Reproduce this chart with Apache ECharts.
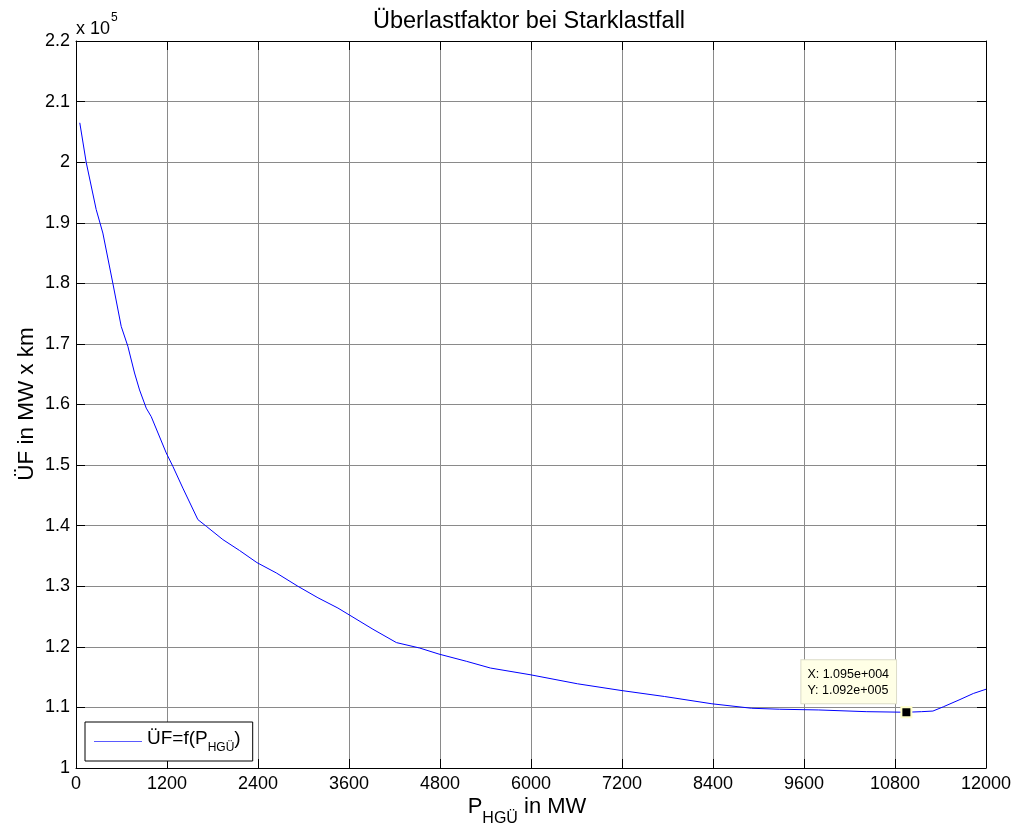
<!DOCTYPE html>
<html>
<head>
<meta charset="utf-8">
<script src="https://cdn.jsdelivr.net/npm/echarts@6/dist/echarts.min.js"></script>
<style>
  html, body { margin: 0; padding: 0; background: #ffffff; }
  #chart { width: 1017px; height: 832px; }
</style>
</head>
<body>
<div id="chart"></div>
<script>
// Transmitted HVDC power (MW)
const powerMW = [
  50, 134, 266, 354, 486, 596, 684, 772, 838, 926, 992, 1190, 1277, 1409,
  1607, 1718, 1937, 2157, 2386, 2641, 2926, 3190, 3454, 3586, 3916, 4225,
  4532, 4787, 5152, 5465, 5987, 6613, 7187, 7761, 8386, 8909, 9274, 9795,
  10420, 10950, 11152, 11300, 11437, 11657, 11833, 12000
];
// Overload factor (MW x km)
const overloadFactor = [
  206500, 200000, 192200, 188300, 180000, 172900, 169600, 165200, 162400,
  159400, 158000, 152000, 149800, 146200, 141000, 139900, 137700, 135900,
  133900, 132200, 130000, 128100, 126400, 125400, 122900, 120700, 119800,
  118800, 117600, 116500, 115400, 113900, 112800, 111800, 110600, 109860,
  109700, 109580, 109300, 109200, 109300, 109400, 110100, 111300, 112300,
  113000
];
// Axis ranges and tick spacing
const xRange = [0, 12000];
const xStep = 1200;
const yRange = [100000, 220000];
const yStep = 10000;
const yExponent = 5;
// Highlighted data tip
const tipPoint = [10950, 109200];

const seriesData = powerMW.map((x, i) => [x, overloadFactor[i]]);

function matlabExp(v) {
  const e = Math.floor(Math.log10(Math.abs(v)));
  const m = (v / Math.pow(10, e)).toFixed(3);
  return m + 'e+' + String(e).padStart(3, '0');
}

const FONT = '"Liberation Sans", Arial, Helvetica, sans-serif';
const black = '#000000';
const blue = '#0000ff';
const gridGray = '#8a8a8a';

const chart = echarts.init(document.getElementById('chart'), null, { renderer: 'canvas' });

const baseAxisLine = { show: true, onZero: false, lineStyle: { color: black, width: 1 } };
const baseTick = { show: true, inside: true, length: 9, lineStyle: { color: black, width: 1 } };

chart.setOption({
  backgroundColor: '#ffffff',
  animation: false,
  grid: { left: 76, right: 31, top: 41, bottom: 64, containLabel: false },
  xAxis: [
    {
      type: 'value', position: 'bottom',
      min: xRange[0], max: xRange[1], interval: xStep,
      axisLine: baseAxisLine, axisTick: baseTick,
      axisLabel: { color: black, fontSize: 18, fontFamily: FONT, margin: 7, formatter: v => String(v) },
      splitLine: { show: true, lineStyle: { color: gridGray, width: 1 } }
    },
    {
      type: 'value', position: 'top',
      min: xRange[0], max: xRange[1], interval: xStep,
      axisLine: baseAxisLine, axisTick: baseTick,
      axisLabel: { show: false }, splitLine: { show: false }
    }
  ],
  yAxis: [
    {
      type: 'value', position: 'left',
      min: yRange[0], max: yRange[1], interval: yStep,
      axisLine: baseAxisLine, axisTick: baseTick,
      axisLabel: {
        color: black, fontSize: 18, fontFamily: FONT, margin: 6,
        formatter: v => String(parseFloat((v / Math.pow(10, yExponent)).toFixed(2)))
      },
      splitLine: { show: true, lineStyle: { color: gridGray, width: 1 } }
    },
    {
      type: 'value', position: 'right',
      min: yRange[0], max: yRange[1], interval: yStep,
      axisLine: baseAxisLine, axisTick: baseTick,
      axisLabel: { show: false }, splitLine: { show: false }
    }
  ],
  legend: {
    left: 85, top: 722,
    orient: 'vertical',
    backgroundColor: '#ffffff',
    borderColor: black, borderWidth: 1,
    padding: [7, 12, 7, 9],
    itemWidth: 48, itemHeight: 14,
    textStyle: {
      color: black, fontFamily: FONT,
      rich: {
        a: { fontSize: 19, fontFamily: FONT, lineHeight: 20, verticalAlign: 'top', color: black },
        b: { fontSize: 12, fontFamily: FONT, lineHeight: 25, verticalAlign: 'bottom', color: black }
      }
    },
    formatter: () => '{a|ÜF=f(P}{b|HGÜ}{a|)}',
    data: [{
      name: 'UF',
      icon: 'path://M0,0 L48,0 L48,1 L0,1 Z',
      itemStyle: { color: '#5a5aff', borderWidth: 0 }
    }]
  },
  series: [
    {
      name: 'UF',
      type: 'line',
      data: seriesData,
      symbol: 'none',
      smooth: false,
      lineStyle: { color: blue, width: 1 },
      itemStyle: { color: blue },
      markPoint: {
        symbol: 'rect',
        symbolSize: 10,
        itemStyle: { color: black, borderColor: '#ffffc8', borderWidth: 2 },
        label: {
          show: true,
          position: [-99, -46],
          formatter: p => 'X: ' + matlabExp(p.data.coord[0]) + '\nY: ' + matlabExp(p.data.coord[1]),
          backgroundColor: '#ffffe6',
          borderColor: '#dcdcc8', borderWidth: 1,
          padding: [6, 7, 4, 6],
          color: black, fontSize: 12.5, lineHeight: 16.5, fontFamily: FONT,
          align: 'left'
        },
        data: [{ coord: tipPoint }]
      }
    }
  ],
  graphic: [
    {
      type: 'text', x: 529, y: 22,
      style: {
        text: 'Überlastfaktor bei Starklastfall', fill: black, fontSize: 23.5, fontFamily: FONT,
        align: 'center', verticalAlign: 'middle'
      }
    },
    {
      type: 'text', x: 76, y: 29.5,
      style: { text: 'x 10', fill: black, fontSize: 18, fontFamily: FONT, verticalAlign: 'middle' }
    },
    {
      type: 'text', x: 111, y: 18,
      style: { text: String(yExponent), fill: black, fontSize: 12, fontFamily: FONT, verticalAlign: 'middle' }
    },
    {
      type: 'text', x: 27, y: 404, rotation: Math.PI / 2,
      style: {
        text: 'ÜF in MW x km', fill: black, fontSize: 22.5, fontFamily: FONT,
        align: 'center', verticalAlign: 'middle'
      }
    },
    {
      type: 'text', x: 527, y: 796,
      style: {
        text: '{a|P}{b|HGÜ}{a| in MW}',
        align: 'center',
        rich: {
          a: { fontSize: 22, fontFamily: FONT, fill: black, lineHeight: 22, verticalAlign: 'top' },
          b: { fontSize: 16, fontFamily: FONT, fill: black, lineHeight: 31, verticalAlign: 'bottom' }
        }
      }
    }
  ]
});
</script>
</body>
</html>
